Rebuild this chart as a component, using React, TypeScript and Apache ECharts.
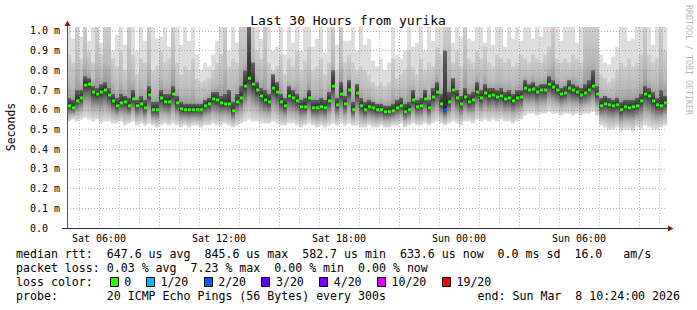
import React, { useEffect, useRef } from 'react';
import * as echarts from 'echarts';

// ---- data (milliseconds), one column = 12 minutes, starting Sat 04:24 ----
const medianMs = [
  0.62, 0.61, 0.645, 0.66, 0.725, 0.73, 0.69, 0.68, 0.69, 0.70,
  0.675, 0.645, 0.62, 0.635, 0.64, 0.62, 0.655, 0.62, 0.63, 0.61,
  0.675, 0.60, 0.60, 0.66, 0.64, 0.64, 0.68, 0.635, 0.605, 0.60,
  0.60, 0.60, 0.60, 0.60, 0.62, 0.63, 0.655, 0.65, 0.635, 0.63,
  0.63, 0.595, 0.64, 0.66, 0.72, 0.76, 0.73, 0.70, 0.67, 0.65,
  0.64, 0.71, 0.69, 0.64, 0.62, 0.67, 0.66, 0.645, 0.615, 0.615,
  0.66, 0.61, 0.61, 0.615, 0.61, 0.645, 0.72, 0.625, 0.68, 0.63,
  0.70, 0.60, 0.685, 0.62, 0.60, 0.615, 0.61, 0.60, 0.60, 0.59,
  0.59, 0.595, 0.61, 0.62, 0.59, 0.60, 0.65, 0.615, 0.62, 0.655,
  0.61, 0.665, 0.69, 0.63, 0.60, 0.64, 0.70, 0.66, 0.63, 0.665,
  0.64, 0.65, 0.69, 0.66, 0.685, 0.67, 0.675, 0.665, 0.67, 0.655,
  0.66, 0.645, 0.66, 0.665, 0.71, 0.70, 0.705, 0.69, 0.70, 0.70,
  0.73, 0.715, 0.70, 0.68, 0.685, 0.71, 0.70, 0.69, 0.675, 0.685,
  0.70, 0.72, 0.68, 0.62, 0.63, 0.625, 0.62, 0.625, 0.60, 0.615,
  0.61, 0.615, 0.62, 0.645, 0.68, 0.67, 0.645, 0.625, 0.62, 0.635,
];
const smokeLowMs = [
  0.54, 0.55, 0.54, 0.55, 0.56, 0.55, 0.54, 0.55, 0.53, 0.54,
  0.54, 0.53, 0.53, 0.54, 0.52, 0.53, 0.54, 0.52, 0.53, 0.52,
  0.53, 0.52, 0.51, 0.52, 0.53, 0.52, 0.53, 0.52, 0.51, 0.52,
  0.51, 0.52, 0.52, 0.51, 0.52, 0.52, 0.53, 0.52, 0.52, 0.53,
  0.52, 0.51, 0.52, 0.53, 0.54, 0.55, 0.54, 0.54, 0.53, 0.53,
  0.53, 0.54, 0.53, 0.52, 0.52, 0.53, 0.53, 0.52, 0.51, 0.52,
  0.53, 0.52, 0.51, 0.52, 0.51, 0.52, 0.53, 0.52, 0.53, 0.52,
  0.53, 0.52, 0.52, 0.51, 0.51, 0.52, 0.51, 0.51, 0.52, 0.51,
  0.51, 0.52, 0.52, 0.53, 0.51, 0.52, 0.53, 0.52, 0.52, 0.53,
  0.52, 0.53, 0.54, 0.53, 0.52, 0.53, 0.54, 0.53, 0.52, 0.54,
  0.54, 0.53, 0.55, 0.54, 0.55, 0.54, 0.55, 0.54, 0.55, 0.54,
  0.54, 0.53, 0.54, 0.55, 0.57, 0.58, 0.58, 0.57, 0.58, 0.58,
  0.59, 0.58, 0.58, 0.57, 0.58, 0.58, 0.57, 0.58, 0.57, 0.58,
  0.58, 0.59, 0.57, 0.52, 0.51, 0.50, 0.50, 0.51, 0.49, 0.50,
  0.50, 0.49, 0.51, 0.50, 0.52, 0.51, 0.50, 0.50, 0.51, 0.52,
];
const darkTopMs = [
  0.66, 0.65, 0.70, 0.70, 0.77, 0.76, 0.72, 0.71, 0.73, 0.74,
  0.71, 0.68, 0.66, 0.68, 0.67, 0.66, 0.70, 0.65, 0.67, 0.65,
  0.72, 0.64, 0.64, 0.70, 0.68, 0.68, 0.72, 0.67, 0.64, 0.63,
  0.63, 0.63, 0.63, 0.63, 0.65, 0.66, 0.69, 0.69, 0.67, 0.68,
  0.70, 0.64, 0.68, 0.72, 0.80, 1.02, 0.84, 0.74, 0.71, 0.70,
  0.68, 0.78, 0.74, 0.68, 0.66, 0.72, 0.70, 0.68, 0.65, 0.66,
  0.70, 0.65, 0.65, 0.66, 0.65, 0.69, 0.80, 0.66, 0.74, 0.67,
  0.75, 0.64, 0.73, 0.66, 0.64, 0.65, 0.64, 0.63, 0.63, 0.62,
  0.62, 0.63, 0.65, 0.66, 0.63, 0.64, 0.70, 0.65, 0.66, 0.70,
  0.65, 0.71, 0.74, 0.68, 0.90, 0.69, 0.76, 0.70, 0.67, 0.71,
  0.68, 0.69, 0.74, 0.70, 0.73, 0.71, 0.71, 0.70, 0.71, 0.69,
  0.70, 0.68, 0.70, 0.70, 0.75, 0.73, 0.74, 0.72, 0.73, 0.73,
  0.77, 0.75, 0.73, 0.71, 0.72, 0.75, 0.73, 0.72, 0.71, 0.73,
  0.75, 0.80, 0.72, 0.66, 0.67, 0.66, 0.65, 0.66, 0.64, 0.65,
  0.65, 0.65, 0.66, 0.68, 0.72, 0.71, 0.69, 0.66, 0.70, 0.67,
];
const midTopMs = [
  0.88, 0.84, 1.02, 0.86, 1.02, 0.90, 0.84, 1.02, 0.88, 1.02,
  1.02, 0.86, 0.82, 0.90, 0.80, 1.02, 0.88, 0.78, 0.86, 0.84,
  1.02, 0.80, 0.82, 0.90, 0.84, 0.86, 1.02, 0.84, 0.78, 0.82,
  0.80, 0.86, 0.76, 0.74, 0.75, 0.76, 0.80, 0.84, 0.88, 1.02,
  0.82, 0.86, 0.84, 1.02, 1.02, 1.02, 1.02, 0.90, 0.86, 1.02,
  0.84, 0.80, 0.82, 0.88, 0.78, 0.86, 0.82, 0.90, 0.80, 0.85,
  0.92, 0.80, 0.82, 0.86, 0.78, 0.84, 1.02, 0.80, 1.02, 0.84,
  0.88, 0.84, 0.80, 0.82, 0.80, 0.78, 0.74, 0.72, 0.74, 0.72,
  0.74, 0.86, 0.76, 0.78, 0.80, 0.90, 0.82, 0.78, 0.86, 0.80,
  0.84, 0.82, 0.92, 0.88, 1.02, 1.02, 0.84, 0.90, 0.82, 1.02,
  0.86, 0.84, 0.90, 0.86, 0.92, 0.84, 0.82, 0.88, 0.86, 0.84,
  0.86, 0.82, 0.84, 0.88, 0.86, 0.84, 0.88, 0.86, 0.84, 0.88,
  0.92, 1.02, 0.86, 0.84, 0.86, 0.84, 0.88, 0.86, 0.84, 1.02,
  1.02, 1.02, 1.02, 0.78, 0.76, 0.74, 0.76, 0.80, 0.84, 0.82,
  0.86, 0.82, 0.84, 0.88, 1.02, 0.88, 0.84, 0.86, 1.02, 0.90,
];
const smokeHighMs = [
  1.02, 0.96, 1.02, 0.97, 1.02, 0.95, 1.02, 1.02, 0.94, 1.02,
  1.02, 0.90, 0.98, 1.02, 0.93, 1.02, 1.02, 0.90, 1.02, 0.95,
  1.02, 1.02, 0.96, 0.97, 1.02, 0.92, 1.02, 1.02, 0.93, 1.02,
  0.95, 1.02, 0.88, 0.80, 0.84, 0.82, 0.88, 0.95, 1.02, 1.02,
  0.90, 1.02, 0.94, 1.02, 1.02, 1.02, 1.02, 1.02, 0.96, 1.02,
  1.02, 0.90, 0.92, 1.02, 0.88, 1.02, 0.94, 1.02, 0.90, 1.02,
  1.02, 0.92, 0.96, 1.02, 0.89, 1.02, 1.02, 0.93, 1.02, 0.95,
  0.95, 1.02, 0.90, 1.02, 0.93, 0.96, 0.85, 0.82, 0.86, 0.80,
  0.84, 1.02, 0.88, 0.86, 0.90, 1.02, 0.92, 0.94, 1.02, 0.90,
  1.02, 0.95, 1.02, 1.02, 1.02, 1.02, 0.94, 1.02, 0.97, 1.02,
  0.96, 0.95, 1.02, 1.02, 0.94, 1.02, 0.93, 1.02, 1.02, 0.92,
  1.02, 0.96, 1.02, 0.95, 1.02, 1.02, 0.96, 1.02, 0.97, 1.02,
  1.02, 1.02, 1.02, 0.95, 1.02, 1.02, 1.02, 0.94, 1.02, 1.02,
  1.02, 1.02, 1.02, 0.88, 0.84, 0.83, 0.87, 0.92, 1.02, 1.02,
  0.95, 0.96, 1.02, 1.02, 1.02, 1.02, 0.93, 1.02, 1.02, 1.02,
];
const lossColumns = [94];
const lossLevels = [2];

const COL_HOURS = 0.2;
const xLabelHours = [1.6, 7.6, 13.6, 19.6, 25.6];
const xTickLabels = ['Sat 06:00', 'Sat 12:00', 'Sat 18:00', 'Sun 00:00', 'Sun 06:00'];
const minorHours = [0.6, 2.6, 3.6, 5.6, 6.6, 8.6, 9.6, 11.6, 12.6, 14.6, 15.6, 17.6, 18.6, 20.6, 21.6, 23.6, 24.6, 26.6, 27.6, 29.6];
const majorHours = [1.6, 4.6, 7.6, 10.6, 13.6, 16.6, 19.6, 22.6, 25.6, 28.6];
const yLabelValues = [0, 0.1, 0.2, 0.3, 0.4, 0.5, 0.6, 0.7, 0.8, 0.9, 1.0];
const yGridValues = [0.1, 0.2, 0.3, 0.4, 0.5, 0.6, 0.7, 0.8, 0.9, 1.0];

const lossLabels = ['0', '1/20', '2/20', '3/20', '4/20', '10/20', '19/20'];
const lossColors = ['#26ff00', '#00b8ff', '#0059ff', '#5e00ff', '#7e00ff', '#dd00ff', '#ff0000'];

const legendLine1 = 'median rtt:  647.6 us avg  845.6 us max  582.7 us min  633.6 us now  0.0 ms sd  16.0   am/s';
const legendLine2 = 'packet loss: 0.03 % avg  7.23 % max  0.00 % min  0.00 % now';
const legendLine3 = 'loss color:';
const legendLine4 = 'probe:       20 ICMP Echo Pings (56 Bytes) every 300s';
const endText = 'end: Sun Mar  8 10:24:00 2026';
const titleText = 'Last 30 Hours from yurika';

const MONO = 'DejaVu Sans Mono';
const LEGEND_FONT = `11.6px ${MONO}`;
const nb = (s: string) => s.replace(/ /g, '\u00a0');

export default function App() {
  const ref = useRef<HTMLDivElement>(null);
  useEffect(() => {
    if (!ref.current) return;
    const chart = echarts.init(ref.current, null, { renderer: 'svg' });

    const data = medianMs.map((m, i) => {
      const li = lossColumns.indexOf(i);
      return [i * COL_HOURS, smokeLowMs[i], m, darkTopMs[i], midTopMs[i], smokeHighMs[i], li >= 0 ? lossLevels[li] : 0];
    });

    const grad = (stops: [number, string][]) => ({
      type: 'linear', x: 0, y: 0, x2: 0, y2: 1, global: false,
      colorStops: stops.map(([offset, color]) => ({ offset, color })),
    });

    const renderItem = (params: any, api: any) => {
      const t = api.value(0);
      const lo = api.value(1), med = api.value(2), core = api.value(3), mid = api.value(4), hi = api.value(5);
      const loss = api.value(6);
      const x0 = api.coord([t, med])[0];
      const x1 = api.coord([t + COL_HOURS, med])[0];
      const w = x1 - x0;
      const Y = (v: number) => api.coord([t, v])[1];
      const yMed = Y(med);
      const children: any[] = [
        { type: 'rect', shape: { x: x0, y: Y(hi), width: w, height: yMed - Y(hi) }, style: { fill: '#dedede' } },
        { type: 'rect', shape: { x: x0, y: Y(mid), width: w, height: yMed - Y(mid) }, style: { fill: grad([[0, '#cdcdcd'], [0.55, '#b9b9b9'], [1, '#8c8c8c']]) } },
        { type: 'rect', shape: { x: x0, y: Y(core), width: w, height: yMed - Y(core) }, style: { fill: grad([[0, '#626262'], [1, '#2a2a2a']]) } },
        { type: 'rect', shape: { x: x0, y: yMed, width: w, height: Y(lo) - yMed }, style: { fill: grad([[0, '#2e2e2e'], [0.25, '#6e6e6e'], [0.55, '#ababab'], [1, '#e0e0e0']]) } },
        { type: 'rect', shape: { x: x0 + 1, y: yMed - 1.5, width: w - 1, height: 3 }, style: { fill: lossColors[loss] } },
      ];
      return { type: 'group', children };
    };

    const labelY = [254, 268, 282, 296];
    const BOX_CW = 7.22;
    const LX = 16;
    const legendGraphics: any[] = [
      { type: 'text', x: LX, y: labelY[0], style: { text: nb(legendLine1), font: LEGEND_FONT, fill: '#000', verticalAlign: 'middle' } },
      { type: 'text', x: LX, y: labelY[1], style: { text: nb(legendLine2), font: LEGEND_FONT, fill: '#000', verticalAlign: 'middle' } },
      { type: 'text', x: LX, y: labelY[2], style: { text: nb(legendLine3), font: LEGEND_FONT, fill: '#000', verticalAlign: 'middle' } },
      { type: 'text', x: LX, y: labelY[3], style: { text: nb(legendLine4), font: LEGEND_FONT, fill: '#000', verticalAlign: 'middle' } },
      { type: 'text', x: 680, y: labelY[3], style: { text: nb(endText), font: LEGEND_FONT, fill: '#000', align: 'right', verticalAlign: 'middle' } },
    ];
    let c = 13;
    lossLabels.forEach((lab, k) => {
      const bx = LX + c * BOX_CW;
      legendGraphics.push({ type: 'rect', shape: { x: Math.round(bx) + 0.5, y: labelY[2] - 4.5, width: 8, height: 9 }, style: { fill: lossColors[k], stroke: '#000', lineWidth: 1 } });
      legendGraphics.push({ type: 'text', x: LX + (c + 2) * BOX_CW, y: labelY[2], style: { text: lab, font: LEGEND_FONT, fill: '#000', verticalAlign: 'middle' } });
      c += 2 + lab.length + 2;
    });

    const option: any = {
      animation: false,
      backgroundColor: '#ffffff',
      grid: { left: 67, right: 30, top: 27, bottom: 82, containLabel: false },
      xAxis: [
        {
          type: 'value', min: 0, max: 30, z: 4,
          axisLine: { show: true, onZero: false, lineStyle: { color: '#303030', width: 1 } },
          axisTick: { show: false, customValues: minorHours },
          splitLine: { show: true, lineStyle: { color: 'rgba(150,150,150,0.6)', width: 1, type: [1, 2] } },
          axisLabel: {
            customValues: xLabelHours, margin: 5, color: '#000', fontFamily: MONO, fontSize: 10,
            formatter: (v: number) => {
              const k = xLabelHours.findIndex((h) => Math.abs(h - v) < 1e-6);
              return k >= 0 ? xTickLabels[k] : '';
            },
          },
        },
        {
          type: 'value', min: 0, max: 30, z: 3, position: 'bottom',
          axisLine: { show: false },
          axisTick: { show: false, customValues: majorHours },
          axisLabel: { show: false },
          splitLine: { show: true, lineStyle: { color: 'rgba(230,60,60,0.55)', width: 1, type: [1, 2] } },
        },
      ],
      yAxis: {
        type: 'value', min: 0, max: 1.02, z: 3,
        axisLine: { show: true, onZero: false, lineStyle: { color: '#505050', width: 1 } },
        axisTick: { show: false, customValues: yGridValues },
        splitLine: { show: true, lineStyle: { color: 'rgba(230,60,60,0.55)', width: 1, type: [1, 2] } },
        axisLabel: {
          customValues: yLabelValues, margin: 7, color: '#000', fontFamily: MONO, fontSize: 10,
          formatter: (v: number) => (Math.abs(v) < 1e-9 ? '0.0\u00a0\u00a0' : v.toFixed(1) + '\u00a0m'),
        },
      },
      series: [
        {
          type: 'custom', renderItem, data, silent: true, clip: true, z: 2,
          encode: { x: 0, y: 2 },
        },
      ],
      graphic: [
        { type: 'text', x: 348, y: 20, style: { text: titleText, font: `13px ${MONO}`, fill: '#000', align: 'center', verticalAlign: 'middle' } },
        { type: 'text', x: 11, y: 127, rotation: Math.PI / 2, style: { text: 'Seconds', font: `11.5px ${MONO}`, fill: '#000', align: 'center', verticalAlign: 'middle' } },
        { type: 'text', x: 689, y: 60, rotation: -Math.PI / 2, style: { text: nb('RRDTOOL / TOBI OETIKER'), font: `8.3px ${MONO}`, fill: '#b8b8b8', align: 'center', verticalAlign: 'middle' } },
        { type: 'line', shape: { x1: 67.5, y1: 27, x2: 67.5, y2: 23 }, style: { stroke: '#505050', lineWidth: 1 } },
        { type: 'line', shape: { x1: 62, y1: 228.5, x2: 669, y2: 228.5 }, style: { stroke: '#303030', lineWidth: 1 } },
        { type: 'polygon', shape: { points: [[64.5, 26], [70.5, 26], [67.5, 20.5]] }, style: { fill: '#8b1a1a' } },
        { type: 'polygon', shape: { points: [[668, 225.5], [668, 231.5], [673.5, 228.5]] }, style: { fill: '#8b1a1a' } },
        ...legendGraphics,
      ],
    };
    chart.setOption(option);
    return () => chart.dispose();
  }, []);
  return <div ref={ref} style={{ position: 'fixed', left: 0, top: 0, width: 697, height: 310 }} />;
}
